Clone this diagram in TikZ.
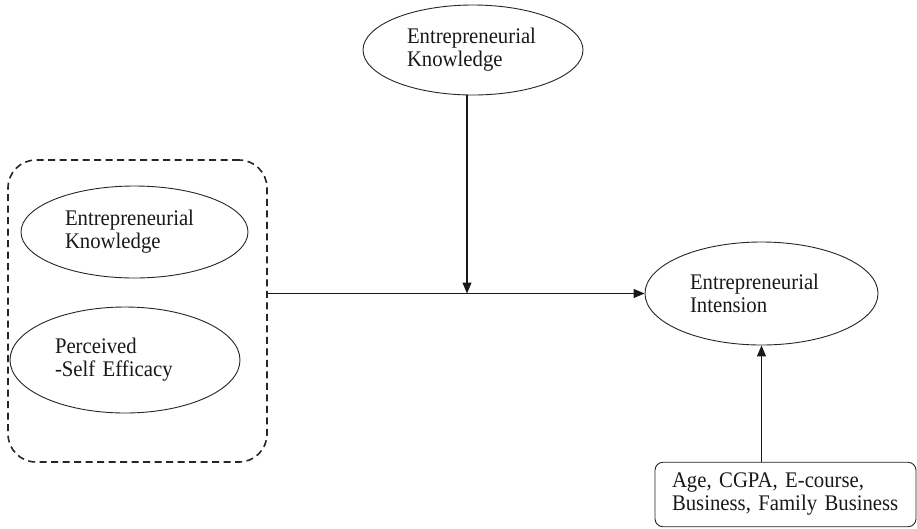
\documentclass[tikz,border=0pt]{standalone}
\usepackage{fontspec}
\setmainfont{Liberation Serif}[FakeStretch=0.93]
\usetikzlibrary{shapes.geometric,arrows.meta}
\begin{document}
\begin{tikzpicture}[x=1pt,y=-1pt,
  txt/.style={font=\fontsize{22.3}{23}\selectfont, align=left, text=black!90},
  ell/.style={ellipse, draw=black!85, line width=0.9pt, inner sep=0pt, txt},
  arr/.style={draw=black!90, line width=1.1pt, -{Triangle[length=11pt,width=9pt]}},
  grpbox/.style={draw=black!85, line width=1.6pt, dash pattern=on 7pt off 4.5pt, rounded corners=28pt, inner sep=0pt},
  ctrlbox/.style={draw=black!85, line width=0.9pt, rounded corners=8pt, inner xsep=17pt, inner ysep=0pt, txt}
]
\useasboundingbox (0,0) rectangle (917,528);
\fill[white] (0,0) rectangle (917,528);

\node[grpbox, minimum width=259pt, minimum height=302pt] (grp) at (137.5,311) {};
\node[ell, minimum width=227pt, minimum height=92pt, text width=139pt] (ek) at (134.5,232) {Entrepreneurial\\Knowledge};
\node[ell, minimum width=230pt, minimum height=106pt, text width=140pt] (pse) at (125,360) {Perceived\\-Self Efficacy};
\node[ell, minimum width=220pt, minimum height=90pt, text width=132pt] (tek) at (473,50) {Entrepreneurial\\Knowledge};
\node[ell, minimum width=233pt, minimum height=103pt, text width=143pt] (ei) at (761.5,293.5) {Entrepreneurial\\Intension};
\node[ctrlbox, minimum width=261pt, minimum height=64.5pt, text width=227pt] (ctl) at (785.5,494.5) {Age, CGPA, E-course,\\Business, Family Business};

\draw[arr] (grp.east |- ei.west) -- (ei.west);
\coordinate (tekb) at ([xshift=-6pt]tek.south);
\draw[arr] (tekb) -- (tekb |- ei.west);
\draw[arr] (ctl.north -| ei.south) -- (ei.south);
\end{tikzpicture}
\end{document}
